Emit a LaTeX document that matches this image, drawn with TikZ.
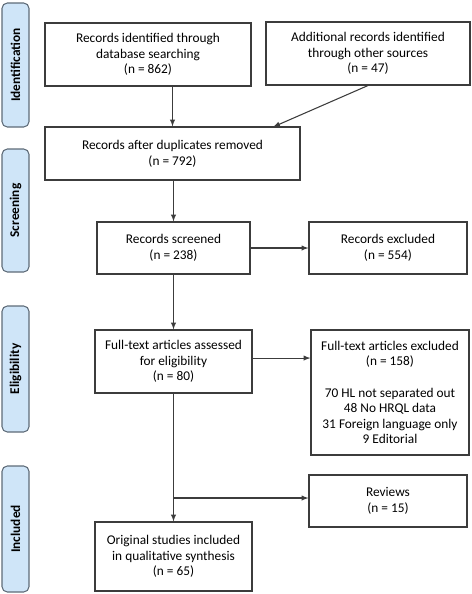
\documentclass[tikz,border=0pt]{standalone}
\usepackage{fontspec}
\setmainfont{Carlito}
\usepackage{tikz}
\usetikzlibrary{arrows}

\definecolor{phasefill}{HTML}{CFE5F8}
\definecolor{phaseline}{HTML}{5E6B78}
\definecolor{boxline}{HTML}{3C3C3C}

\begin{document}
\begin{tikzpicture}[x=0.75pt,y=-0.75pt,
    recbox/.style={draw=boxline,line width=0.8pt,align=center,inner sep=2pt,
      font=\fontsize{10pt}{11.7pt}\selectfont},
    phase/.style={draw=phaseline,fill=phasefill,line width=0.8pt,rounded corners=4pt,
      minimum height=20.25pt,rotate=90,font=\fontsize{10pt}{11pt}\selectfont\bfseries},
    flow/.style={-latex,line width=0.8pt,draw=boxline}]
  \useasboundingbox (0,0) rectangle (472,594);
  \node[phase,minimum width=93pt] (p1) at (15.5,65) {Identification};
  \node[phase,minimum width=92.25pt] (p2) at (15.5,210.5) {Screening};
  \node[phase,minimum width=94.5pt] (p3) at (15.5,369) {Eligibility};
  \node[phase,minimum width=94.5pt] (p4) at (15.5,529) {Included};
  \node[recbox,minimum width=154.5pt,minimum height=47.25pt] (b1) at (148,54.5)
    {Records identified through\\database searching\\(n = 862)};
  \node[recbox,minimum width=153pt,minimum height=47.25pt] (b2) at (368,53.5)
    {Additional records identified\\through other sources\\(n = 47)};
  \node[recbox,minimum width=191.25pt,minimum height=39.75pt] (b3) at (172.5,153.5)
    {Records after duplicates removed\\(n = 792)};
  \node[recbox,minimum width=114.75pt,minimum height=39pt] (b4) at (173.5,248)
    {Records screened\\(n = 238)};
  \node[recbox,minimum width=118.5pt,minimum height=39pt] (b5) at (388,248)
    {Records excluded\\(n = 554)};
  \node[recbox,minimum width=117.75pt,minimum height=47.25pt] (b6) at (173.5,361.5)
    {Full-text articles assessed\\for eligibility\\(n = 80)};
  \node[recbox,minimum width=118.5pt,minimum height=93.75pt] (b7) at (390,392.5)
    {Full-text articles excluded\\(n = 158)\\[11.7pt]70 HL not separated out\\48 No HRQL data\\31 Foreign language only\\9 Editorial};
  \node[recbox,minimum width=118.5pt,minimum height=39pt] (b8) at (388,501)
    {Reviews\\(n = 15)};
  \node[recbox,minimum width=117.75pt,minimum height=51.75pt] (b9) at (173.5,556.5)
    {Original studies included\\in qualitative synthesis\\(n = 65)};
  \coordinate (m3) at (273,127);
  \coordinate (j9) at (173.5,498);
  \draw[flow] (b3.north |- b1.south) -- (b3.north);
  \draw[flow] (b2.south) -- (m3);
  \draw[flow] (b3.south -| b4.north) -- (b4.north);
  \draw[flow] (b4.east) -- (b5.west);
  \draw[flow] (b4.south) -- (b6.north);
  \draw[flow] ([yshift=2.6pt]b6.east) -- ([yshift=2.6pt]b6.east -| b7.west);
  \draw[flow] (b6.south) -- (b9.north);
  \draw[flow] (j9) -- (j9 -| b8.west);
\end{tikzpicture}
\end{document}
